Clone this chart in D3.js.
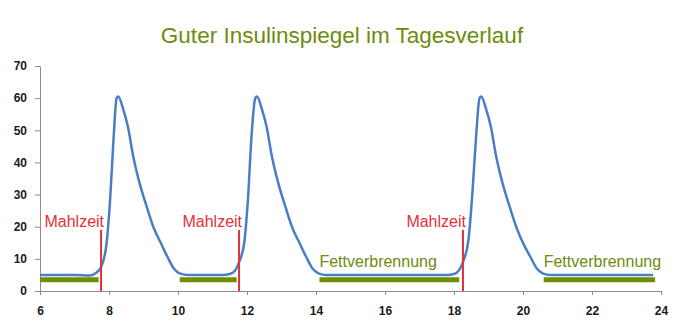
<!DOCTYPE html>
<html>
<head>
<meta charset="utf-8">
<script src="https://cdn.jsdelivr.net/npm/d3@7/dist/d3.min.js"></script>
<style>
  html, body { margin: 0; padding: 0; background: #fff; }
  svg { display: block; font-family: "Liberation Sans", Arial, sans-serif; }
</style>
</head>
<body>
<svg id="chart" width="688" height="336"></svg>
<script>
// Insulin level over the day (hour of day, level)
const hours = [
  6.0, 7.0, 7.45, 7.62, 7.77, 7.92, 8.03, 8.13, 8.22, 8.27, 8.4, 8.55, 8.7, 8.9, 9.1, 9.3, 9.5, 9.7, 9.88, 10.05, 10.3,
  11.3, 11.5, 11.65, 11.77, 11.92, 12.03, 12.13, 12.24, 12.29, 12.42, 12.57, 12.72, 12.92, 13.12, 13.32, 13.52, 13.72, 13.9, 14.07, 14.3,
  17.8, 18.0, 18.15, 18.26, 18.42, 18.53, 18.64, 18.74, 18.79, 18.92, 19.07, 19.22, 19.42, 19.62, 19.82, 20.02, 20.22, 20.4, 20.57, 20.8,
  23.77
];
const insulin = [
  5, 5, 4.8, 5.6, 7.5, 14, 28, 47, 60, 60.5, 57, 51, 42, 33, 26, 19.5, 15, 10.5, 7, 5.5, 5,
  5, 5.3, 6.3, 9, 15, 29, 48, 60, 60.5, 57, 51, 42, 33, 26, 19.5, 15, 10.5, 7, 5.5, 5,
  5, 5.3, 6.5, 9, 16, 30, 48, 60, 60.5, 57, 51, 42, 33, 26, 19.5, 14.5, 10.5, 7, 5.5, 5,
  5
];

// Meal times (red markers)
const mealTimes = [7.77, 11.77, 18.26];
const mealMarkerTop = 19;
const mealLabel = "Mahlzeit";

// Fat-burning phases (green bars)
const burnStart = [6.0, 10.05, 14.1, 20.6];
const burnEnd = [7.7, 11.7, 18.15, 23.83];
const burnLevel = 3.5;
const burnLabel = "Fettverbrennung";
const burnLabelled = [false, false, true, true];

const xTicks = [6, 8, 10, 12, 14, 16, 18, 20, 22, 24];
const yTicks = [0, 10, 20, 30, 40, 50, 60, 70];
const title = "Guter Insulinspiegel im Tagesverlauf";

const svg = d3.select("#chart");
const x = d3.scaleLinear().domain([6, 24]).range([40, 661]);
const y = d3.scaleLinear().domain([0, 70]).range([291, 66]);

svg.append("text")
  .attr("x", 342).attr("y", 43)
  .attr("text-anchor", "middle")
  .attr("font-size", 22.5)
  .attr("fill", "#6c8c0e")
  .text(title);

// Axes
const xAxis = svg.append("g")
  .attr("transform", `translate(0,${y(0)})`)
  .call(d3.axisBottom(x).tickValues(xTicks).tickSize(4).tickSizeOuter(0).tickPadding(11));
const yAxis = svg.append("g")
  .attr("transform", `translate(${x(6)},0)`)
  .call(d3.axisLeft(y).tickValues(yTicks).tickSize(5).tickSizeOuter(0).tickPadding(8));
[xAxis, yAxis].forEach(g => {
  g.select(".domain").attr("stroke", "#8c8c8c");
  g.selectAll(".tick line").attr("stroke", "#8c8c8c");
  g.selectAll(".tick text")
    .attr("font-size", 12).attr("font-weight", "bold")
    .attr("fill", "#1a1a1a")
    .attr("font-family", "\"Liberation Sans\", Arial, sans-serif");
});

// Fat-burning bars
svg.append("g").selectAll("line")
  .data(burnStart)
  .join("line")
  .attr("x1", d => x(d))
  .attr("x2", (d, i) => x(burnEnd[i]))
  .attr("y1", y(burnLevel)).attr("y2", y(burnLevel))
  .attr("stroke", "#718d00")
  .attr("stroke-width", 5);

svg.append("g").selectAll("text")
  .data(burnStart.filter((d, i) => burnLabelled[i]))
  .join("text")
  .attr("x", d => x(d))
  .attr("y", 267)
  .attr("font-size", 16)
  .attr("fill", "#6c8c0e")
  .text(burnLabel);

// Insulin curve
const line = d3.line()
  .x((d, i) => x(hours[i]))
  .y(d => y(d))
  .curve(d3.curveMonotoneX);
svg.append("path")
  .datum(insulin)
  .attr("d", line)
  .attr("fill", "none")
  .attr("stroke", "#4a7ec4")
  .attr("stroke-width", 2.5)
  .attr("stroke-linejoin", "round");

// Meal markers
svg.append("g").selectAll("line")
  .data(mealTimes)
  .join("line")
  .attr("x1", d => x(d)).attr("x2", d => x(d))
  .attr("y1", y(0)).attr("y2", y(mealMarkerTop))
  .attr("stroke", "#e4303a")
  .attr("stroke-width", 2);

svg.append("g").selectAll("text")
  .data(mealTimes)
  .join("text")
  .attr("x", d => x(d) + 3)
  .attr("y", 227)
  .attr("text-anchor", "end")
  .attr("font-size", 16)
  .attr("fill", "#e4303a")
  .text(mealLabel);
</script>
</body>
</html>
